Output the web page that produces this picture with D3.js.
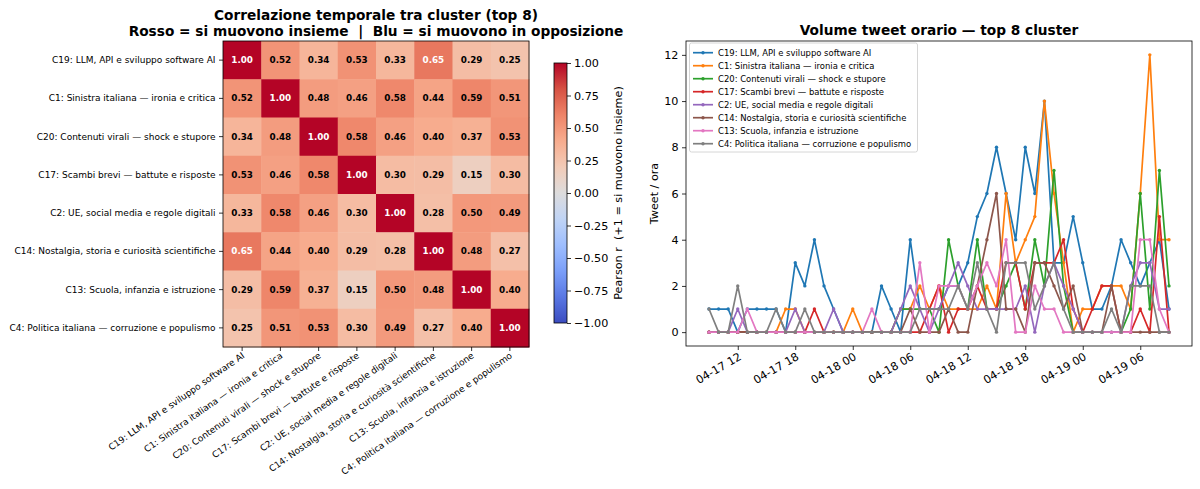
<!DOCTYPE html>
<html><head><meta charset="utf-8">
<script src="https://cdn.jsdelivr.net/npm/d3@7"></script>
<style>
html,body{margin:0;padding:0;background:#fff;}
svg{display:block;font-family:"DejaVu Sans",sans-serif;}
</style></head>
<body>
<svg id="chart" width="1200" height="489"></svg>
<script>
// ---------- DATA ----------
const clusters = [
  "C19: LLM, API e sviluppo software AI",
  "C1: Sinistra italiana — ironia e critica",
  "C20: Contenuti virali — shock e stupore",
  "C17: Scambi brevi — battute e risposte",
  "C2: UE, social media e regole digitali",
  "C14: Nostalgia, storia e curiosità scientifiche",
  "C13: Scuola, infanzia e istruzione",
  "C4: Politica italiana — corruzione e populismo"
];
const corrC19 = [1.00,0.52,0.34,0.53,0.33,0.65,0.29,0.25];
const corrC1  = [0.52,1.00,0.48,0.46,0.58,0.44,0.59,0.51];
const corrC20 = [0.34,0.48,1.00,0.58,0.46,0.40,0.37,0.53];
const corrC17 = [0.53,0.46,0.58,1.00,0.30,0.29,0.15,0.30];
const corrC2  = [0.33,0.58,0.46,0.30,1.00,0.28,0.50,0.49];
const corrC14 = [0.65,0.44,0.40,0.29,0.28,1.00,0.48,0.27];
const corrC13 = [0.29,0.59,0.37,0.15,0.50,0.48,1.00,0.40];
const corrC4  = [0.25,0.51,0.53,0.30,0.49,0.27,0.40,1.00];
const corrRows = [corrC19,corrC1,corrC20,corrC17,corrC2,corrC14,corrC13,corrC4];
const colorbarTicks = [-1,-0.75,-0.5,-0.25,0,0.25,0.5,0.75,1];

// hourly time axis: 2025-04-17 09:00 .. 2025-04-19 09:00
const hours = d3.utcHour.range(new Date(Date.UTC(2025,3,17,9)), new Date(Date.UTC(2025,3,19,10)));
const volC19 = [1,1,1,0,1,1,1,1,0,3, 2,4,2,1,0,0,0,0,2,1, 0,4,1,1,1,2,2,3,5,6, 8,6,4,8,6,10,3,3,5,3, 1,1,2,4,3,2,3,4,1];
const volC1  = [0,0,0,0,0,0,0,0,1,1, 0,0,0,0,0,1,0,0,0,0, 1,1,2,1,2,1,1,1,1,2, 1,6,3,4,5,10,6,3,0,1, 1,2,2,2,1,6,12,4,4];
const volC20 = [0,0,0,0,0,0,0,0,0,0, 0,0,0,0,0,0,0,0,0,0, 1,1,1,1,0,4,2,1,4,1, 1,2,3,1,4,2,7,2,0,0, 0,0,0,0,1,6,1,7,2];
const volC17 = [0,0,0,0,0,0,0,0,0,0, 0,1,0,0,0,0,0,0,0,0, 0,0,0,1,2,0,1,1,2,1, 1,3,3,1,3,3,3,4,1,0, 1,2,2,0,0,1,0,5,0];
const volC2  = [0,0,0,1,0,0,0,0,0,1, 0,0,0,1,0,0,0,0,0,0, 1,2,1,0,1,2,3,2,1,1, 1,1,1,2,0,2,3,2,1,0, 0,0,0,0,2,3,3,1,1];
const volC14 = [0,0,0,0,0,0,0,0,0,0, 0,0,0,0,0,0,0,0,0,0, 0,1,0,0,0,1,0,0,2,4, 6,1,1,0,3,3,2,1,2,0, 0,0,2,0,0,0,0,0,0];
const volC13 = [0,0,0,0,1,0,0,0,0,0, 0,0,0,0,0,0,0,1,0,0, 0,0,3,0,2,2,2,1,2,3, 2,4,0,0,2,1,1,0,0,0, 0,0,0,0,0,4,4,1,0];
const volC4  = [1,0,0,2,0,0,0,1,0,0, 1,0,0,0,0,0,0,0,0,0, 0,0,1,1,1,1,2,1,3,1, 0,3,3,3,1,2,3,1,0,0, 0,0,1,0,2,2,2,0,0];
const volSeries = [volC19,volC1,volC20,volC17,volC2,volC14,volC13,volC4];
const seriesColors = ["#1f77b4","#ff7f0e","#2ca02c","#d62728","#9467bd","#8c564b","#e377c2","#7f7f7f"];
const yTicks = [0,2,4,6,8,10,12];

// ---------- DRAW ----------
const svg = d3.select("#chart");
svg.append("rect").attr("width",1200).attr("height",489).attr("fill","#fff");
const TICK_FS = "11.2px", TITLE_FS = "13.7px";

// coolwarm colormap
const cwStops = ["#3b4cc0","#5977e3","#7b9ff9","#9ebeff","#c0d4f5","#dddcdc","#f2cbb7","#f7ac8e","#ee8468","#d65244","#b40426"];
const color = d3.scaleLinear().domain(d3.range(11).map(i=>-1+i*0.2)).range(cwStops).interpolate(d3.interpolateRgb).clamp(true);

// ---- Heatmap ----
const hm = {l:223, r:529, t:41, b:347};
const xb = d3.scaleBand().domain(clusters).range([hm.l,hm.r]);
const yb = d3.scaleBand().domain(clusters).range([hm.t,hm.b]);
const cells = [];
corrRows.forEach((row,i)=>row.forEach((v,j)=>cells.push({r:clusters[i],c:clusters[j],v})));
const g1 = svg.append("g");
g1.selectAll("rect.cell").data(cells).join("rect")
  .attr("x",d=>xb(d.c)).attr("y",d=>yb(d.r))
  .attr("width",xb.bandwidth()+0.5).attr("height",yb.bandwidth()+0.5)
  .attr("fill",d=>color(d.v));
g1.selectAll("text.val").data(cells).join("text")
  .attr("x",d=>xb(d.c)+xb.bandwidth()/2).attr("y",d=>yb(d.r)+yb.bandwidth()/2)
  .attr("text-anchor","middle").attr("dominant-baseline","central")
  .attr("font-size","8.8px").attr("font-weight","bold")
  .attr("fill",d=>Math.abs(d.v)>0.6?"#fff":"#000")
  .text(d=>d.v.toFixed(2));
g1.append("rect").attr("x",hm.l).attr("y",hm.t).attr("width",hm.r-hm.l).attr("height",hm.b-hm.t)
  .attr("fill","none").attr("stroke","#000").attr("stroke-width",0.8);

const yAxHm = g1.append("g").attr("transform",`translate(${hm.l},0)`)
  .call(d3.axisLeft(yb).tickSize(4).tickPadding(3.5));
yAxHm.select(".domain").remove();
yAxHm.selectAll("text").attr("font-size","9px").attr("fill","#000").attr("font-family","DejaVu Sans");
yAxHm.selectAll("line").attr("stroke","#000").attr("stroke-width",0.8);

const xAxHm = g1.append("g").attr("transform",`translate(0,${hm.b})`)
  .call(d3.axisBottom(xb).tickSize(4).tickPadding(3));
xAxHm.select(".domain").remove();
xAxHm.selectAll("line").attr("stroke","#000").attr("stroke-width",0.8);
xAxHm.selectAll("text").attr("font-size","9px").attr("fill","#000").attr("font-family","DejaVu Sans")
  .attr("text-anchor","end").attr("dy",null).attr("y",null)
  .attr("transform","translate(3,10) rotate(-35)");

// titles
svg.append("text").attr("x",376).attr("y",19.5).attr("text-anchor","middle")
  .attr("font-size",TITLE_FS).attr("font-weight","bold").text("Correlazione temporale tra cluster (top 8)");
svg.append("text").attr("x",376).attr("y",35.5).attr("text-anchor","middle").attr("xml:space","preserve")
  .attr("font-size",TITLE_FS).attr("font-weight","bold").text("Rosso = si muovono insieme  |  Blu = si muovono in opposizione");

// ---- Colorbar ----
const cb = {x:554, w:13, t:63, b:323};
const cbScale = d3.scaleLinear().domain([-1,1]).range([cb.b,cb.t]);
const grad = svg.append("defs").append("linearGradient").attr("id","cwgrad")
  .attr("x1","0").attr("y1","1").attr("x2","0").attr("y2","0");
d3.range(0,1.0001,0.05).forEach(t=>grad.append("stop").attr("offset",t).attr("stop-color",color(-1+2*t)));
svg.append("rect").attr("x",cb.x).attr("y",cb.t).attr("width",cb.w).attr("height",cb.b-cb.t)
  .attr("fill","url(#cwgrad)").attr("stroke","#000").attr("stroke-width",0.8);
const cbAx = svg.append("g").attr("transform",`translate(${cb.x+cb.w},0)`)
  .call(d3.axisRight(cbScale).tickValues(colorbarTicks).tickFormat(d3.format(".2f")).tickSize(4).tickPadding(3));
cbAx.select(".domain").remove();
cbAx.selectAll("text").attr("font-size",TICK_FS).attr("fill","#000").attr("font-family","DejaVu Sans");
cbAx.selectAll("line").attr("stroke","#000").attr("stroke-width",0.8);
svg.append("text").attr("transform",`translate(618,${(cb.t+cb.b)/2}) rotate(-90)`).attr("xml:space","preserve")
  .attr("text-anchor","middle").attr("font-size",TICK_FS).attr("dominant-baseline","central")
  .text("Pearson r  (+1 = si muovono insieme)");

// ---- Line chart ----
const lc = {l:686, r:1192, t:41, b:346};
const x = d3.scaleUtc()
  .domain([d3.utcMinute.offset(hours[0],-144), d3.utcMinute.offset(hours[hours.length-1],144)])
  .range([lc.l,lc.r]);
const y = d3.scaleLinear().domain([-0.6,12.6]).range([lc.b,lc.t]);
const g2 = svg.append("g");
const line = d3.line().x((d,i)=>x(hours[i])).y(d=>y(d));
volSeries.forEach((vals,k)=>{
  g2.append("path").datum(vals).attr("d",line).attr("fill","none")
    .attr("stroke",seriesColors[k]).attr("stroke-width",1.7).attr("stroke-linejoin","round");
  g2.selectAll(null).data(vals).join("circle")
    .attr("cx",(d,i)=>x(hours[i])).attr("cy",d=>y(d)).attr("r",1.7).attr("fill",seriesColors[k]);
});
g2.append("rect").attr("x",lc.l).attr("y",lc.t).attr("width",lc.r-lc.l).attr("height",lc.b-lc.t)
  .attr("fill","none").attr("stroke","#000").attr("stroke-width",0.8);
const yAx = g2.append("g").attr("transform",`translate(${lc.l},0)`)
  .call(d3.axisLeft(y).tickValues(yTicks).tickSize(4).tickPadding(3.5));
yAx.select(".domain").remove();
yAx.selectAll("text").attr("font-size",TICK_FS).attr("fill","#000").attr("font-family","DejaVu Sans");
yAx.selectAll("line").attr("stroke","#000").attr("stroke-width",0.8);
const xAx = g2.append("g").attr("transform",`translate(0,${lc.b})`)
  .call(d3.axisBottom(x).ticks(d3.utcHour.every(6)).tickFormat(d3.utcFormat("%m-%d %H")).tickSize(4).tickPadding(3));
xAx.select(".domain").remove();
xAx.selectAll("line").attr("stroke","#000").attr("stroke-width",0.8);
xAx.selectAll("text").attr("font-size",TICK_FS).attr("fill","#000").attr("font-family","DejaVu Sans")
  .attr("text-anchor","end").attr("dy",null).attr("y",null)
  .attr("transform","translate(4,13) rotate(-30)");
svg.append("text").attr("transform",`translate(654,${(lc.t+lc.b)/2}) rotate(-90)`)
  .attr("text-anchor","middle").attr("font-size",TICK_FS).attr("dominant-baseline","central").text("Tweet / ora");
svg.append("text").attr("x",(lc.l+lc.r)/2).attr("y",35).attr("text-anchor","middle")
  .attr("font-size",TITLE_FS).attr("font-weight","bold").text("Volume tweet orario — top 8 cluster");

// legend
const lg = svg.append("g");
lg.append("rect").attr("x",689.5).attr("y",43).attr("width",228).attr("height",109).attr("rx",2)
  .attr("fill","#fff").attr("fill-opacity",0.8).attr("stroke","#ccc").attr("stroke-width",0.8);
clusters.forEach((name,k)=>{
  const yy = 52.7 + k*13;
  lg.append("line").attr("x1",693).attr("x2",713).attr("y1",yy).attr("y2",yy)
    .attr("stroke",seriesColors[k]).attr("stroke-width",1.7);
  lg.append("circle").attr("cx",703).attr("cy",yy).attr("r",1.7).attr("fill",seriesColors[k]);
  lg.append("text").attr("x",718).attr("y",yy).attr("dominant-baseline","central")
    .attr("font-size","8.45px").text(name);
});
</script>
</body></html>
